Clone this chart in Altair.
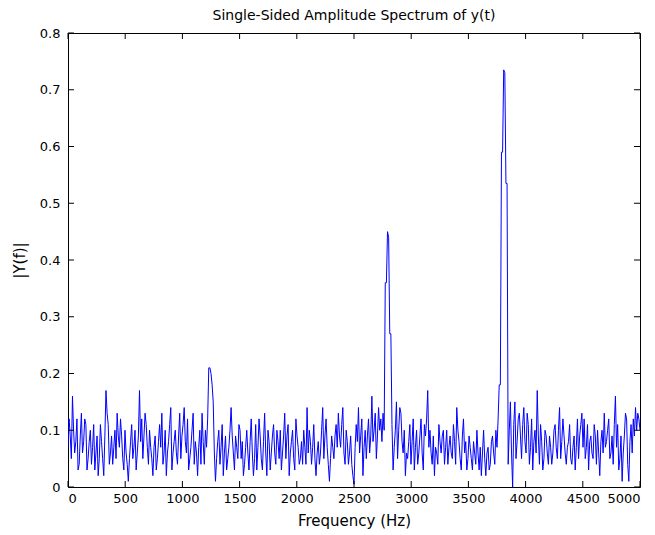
import altair as alt
import pandas as pd

# amplitude read at the even FFT bins (0, 19.5, 39 ... 5000 Hz)
amp_even = [
    0.07, 0.09, 0.16, 0.06, 0.12, 0.04, 0.13, 0.08, 0.11, 0.05,
    0.10, 0.07, 0.03, 0.09, 0.05, 0.08, 0.02, 0.17, 0.11, 0.06,
    0.04, 0.10, 0.13, 0.07, 0.09, 0.03, 0.06, 0.01, 0.08, 0.05,
    0.10, 0.06, 0.17, 0.12, 0.09, 0.11, 0.04, 0.07, 0.02, 0.09,
    0.05, 0.11, 0.13, 0.06, 0.02, 0.08, 0.14, 0.06, 0.10, 0.04,
    0.13, 0.09, 0.14, 0.06, 0.03, 0.07, 0.13, 0.08, 0.02, 0.10,
    0.13, 0.04, 0.07, 0.21, 0.20, 0.15, 0.01, 0.08, 0.04, 0.11,
    0.06, 0.03, 0.07, 0.14, 0.06, 0.09, 0.05, 0.10, 0.08, 0.04,
    0.10, 0.03, 0.12, 0.02, 0.11, 0.07, 0.09, 0.03, 0.13, 0.02,
    0.08, 0.06, 0.11, 0.04, 0.08, 0.10, 0.06, 0.13, 0.09, 0.02,
    0.08, 0.05, 0.12, 0.07, 0.05, 0.04, 0.07, 0.14, 0.10, 0.04,
    0.11, 0.02, 0.08, 0.06, 0.14, 0.09, 0.07, 0.01, 0.09, 0.05,
    0.11, 0.13, 0.07, 0.14, 0.04, 0.08, 0.06, 0.04, 0.005, 0.11,
    0.14, 0.09, 0.02, 0.10, 0.09, 0.06, 0.16, 0.10, 0.05, 0.14,
    0.12, 0.13, 0.36, 0.45, 0.27, 0.11, 0.07, 0.15, 0.10, 0.13,
    0.06, 0.02, 0.05, 0.11, 0.08, 0.03, 0.10, 0.06, 0.12, 0.03,
    0.09, 0.17, 0.10, 0.04, 0.02, 0.06, 0.11, 0.06, 0.10, 0.07,
    0.04, 0.09, 0.05, 0.08, 0.14, 0.08, 0.03, 0.12, 0.08, 0.05,
    0.07, 0.03, 0.06, 0.10, 0.03, 0.02, 0.10, 0.02, 0.07, 0.04,
    0.09, 0.04, 0.07, 0.18, 0.59, 0.735, 0.535, 0.04, 0.15, 0.0,
    0.15, 0.08, 0.13, 0.05, 0.14, 0.06, 0.11, 0.07, 0.03, 0.10,
    0.17, 0.04, 0.08, 0.05, 0.09, 0.04, 0.07, 0.06, 0.11, 0.05,
    0.14, 0.08, 0.09, 0.04, 0.08, 0.05, 0.07, 0.03, 0.12, 0.09,
    0.13, 0.12, 0.07, 0.03, 0.09, 0.05, 0.09, 0.10, 0.02, 0.10,
    0.13, 0.08, 0.12, 0.06, 0.04, 0.16, 0.11, 0.05, 0.01, 0.09,
    0.12, 0.01, 0.11, 0.12, 0.14, 0.13, 0.10,
]
# amplitude read at the odd FFT bins (9.8, 29.3 ... 4990 Hz)
amp_odd = [
    0.12, 0.05, 0.10, 0.08, 0.03, 0.09, 0.06, 0.12, 0.03, 0.08,
    0.04, 0.11, 0.06, 0.02, 0.11, 0.05, 0.09, 0.13, 0.04, 0.09,
    0.07, 0.05, 0.09, 0.12, 0.05, 0.10, 0.04, 0.05, 0.11, 0.07,
    0.03, 0.09, 0.08, 0.05, 0.13, 0.07, 0.10, 0.05, 0.07, 0.03,
    0.08, 0.07, 0.04, 0.10, 0.06, 0.11, 0.03, 0.08, 0.06, 0.09,
    0.05, 0.11, 0.08, 0.12, 0.05, 0.10, 0.04, 0.06, 0.07, 0.04,
    0.08, 0.10, 0.12, 0.21, 0.18, 0.06, 0.05, 0.10, 0.07, 0.02,
    0.09, 0.05, 0.10, 0.09, 0.03, 0.07, 0.11, 0.05, 0.02, 0.07,
    0.06, 0.08, 0.06, 0.05, 0.03, 0.12, 0.05, 0.08, 0.06, 0.10,
    0.03, 0.09, 0.06, 0.10, 0.05, 0.03, 0.09, 0.05, 0.11, 0.06,
    0.10, 0.03, 0.09, 0.04, 0.08, 0.10, 0.04, 0.06, 0.08, 0.07,
    0.05, 0.06, 0.04, 0.10, 0.05, 0.12, 0.04, 0.05, 0.07, 0.09,
    0.07, 0.09, 0.11, 0.06, 0.10, 0.04, 0.09, 0.02, 0.07, 0.08,
    0.06, 0.12, 0.07, 0.05, 0.12, 0.09, 0.08, 0.13, 0.09, 0.10,
    0.08, 0.10, 0.36, 0.44, 0.27, 0.03, 0.10, 0.05, 0.14, 0.08,
    0.10, 0.06, 0.08, 0.04, 0.12, 0.07, 0.04, 0.09, 0.06, 0.11,
    0.12, 0.07, 0.06, 0.09, 0.07, 0.04, 0.08, 0.09, 0.04, 0.10,
    0.07, 0.06, 0.11, 0.04, 0.10, 0.05, 0.09, 0.06, 0.03, 0.09,
    0.05, 0.08, 0.04, 0.06, 0.07, 0.06, 0.05, 0.06, 0.03, 0.08,
    0.06, 0.10, 0.12, 0.18, 0.59, 0.73, 0.535, 0.10, 0.06, 0.11,
    0.05, 0.12, 0.09, 0.11, 0.08, 0.13, 0.04, 0.12, 0.08, 0.06,
    0.09, 0.11, 0.03, 0.10, 0.06, 0.09, 0.04, 0.10, 0.07, 0.10,
    0.05, 0.12, 0.06, 0.07, 0.11, 0.04, 0.09, 0.07, 0.05, 0.11,
    0.07, 0.05, 0.11, 0.08, 0.06, 0.11, 0.04, 0.06, 0.08, 0.06,
    0.07, 0.10, 0.05, 0.09, 0.11, 0.07, 0.03, 0.09, 0.06, 0.13,
    0.04, 0.08, 0.06, 0.09, 0.10, 0.12,
]

amp = []
for i, v in enumerate(amp_even):
    amp.append(v)
    if i < len(amp_odd):
        amp.append(amp_odd[i])
freq = [i * 5000 / (len(amp) - 1) for i in range(len(amp))]

x_ticks = [0, 500, 1000, 1500, 2000, 2500, 3000, 3500, 4000, 4500, 5000]
y_ticks = [0, 0.1, 0.2, 0.3, 0.4, 0.5, 0.6, 0.7, 0.8]

W, H = 572, 454
FONT = "DejaVu Sans"

df = pd.DataFrame({"f": freq, "a": amp})
xt = pd.DataFrame({"xt": x_ticks})
yt = pd.DataFrame({"yt": y_ticks})

xscale = alt.Scale(domain=[0, 5000], nice=False, zero=False)
yscale = alt.Scale(domain=[0, 0.8], nice=False)

xaxis = alt.Axis(values=x_ticks, ticks=False, tickSize=0, domain=False, grid=False,
                 labelPadding=5, titlePadding=8, format="d")
yaxis = alt.Axis(values=y_ticks, ticks=False, tickSize=0, domain=False, grid=False,
                 labelPadding=8, titlePadding=12, format="~g")
XT = "Frequency (Hz)"
YT = "|Y(f)|"

line = alt.Chart(df).mark_line(color="#0000FF", strokeWidth=1, clip=True).encode(
    x=alt.X("f:Q", scale=xscale, title=XT, axis=xaxis),
    y=alt.Y("a:Q", scale=yscale, title=YT, axis=yaxis),
)

tick_len = 6
bottom = alt.Chart(xt).mark_rule(color="black", strokeWidth=1).encode(
    x=alt.X("xt:Q", scale=xscale, title=XT, axis=xaxis), y=alt.value(H), y2=alt.value(H - tick_len))
top = alt.Chart(xt).mark_rule(color="black", strokeWidth=1).encode(
    x=alt.X("xt:Q", scale=xscale, title=XT, axis=xaxis), y=alt.value(0), y2=alt.value(tick_len))
left = alt.Chart(yt).mark_rule(color="black", strokeWidth=1).encode(
    y=alt.Y("yt:Q", scale=yscale, title=YT, axis=yaxis), x=alt.value(0), x2=alt.value(tick_len))
right = alt.Chart(yt).mark_rule(color="black", strokeWidth=1).encode(
    y=alt.Y("yt:Q", scale=yscale, title=YT, axis=yaxis), x=alt.value(W), x2=alt.value(W - tick_len))

chart = alt.layer(line, bottom, top, left, right).properties(
    width=W, height=H,
    title=alt.TitleParams("Single-Sided Amplitude Spectrum of y(t)", font=FONT, fontSize=14,
                          fontWeight="normal", color="black", offset=4),
    autosize=alt.AutoSizeParams(type="none"),
    padding={"left": 60, "top": 25, "right": 7, "bottom": 48},
    background="white",
).configure_view(stroke="black", strokeWidth=1).configure_axis(
    labelFont=FONT, labelFontSize=13, labelColor="black",
    titleFont=FONT, titleFontSize=15, titleFontWeight="normal", titleColor="black",
)

chart.save("out.html", embed_options={"renderer": "svg", "actions": False})
